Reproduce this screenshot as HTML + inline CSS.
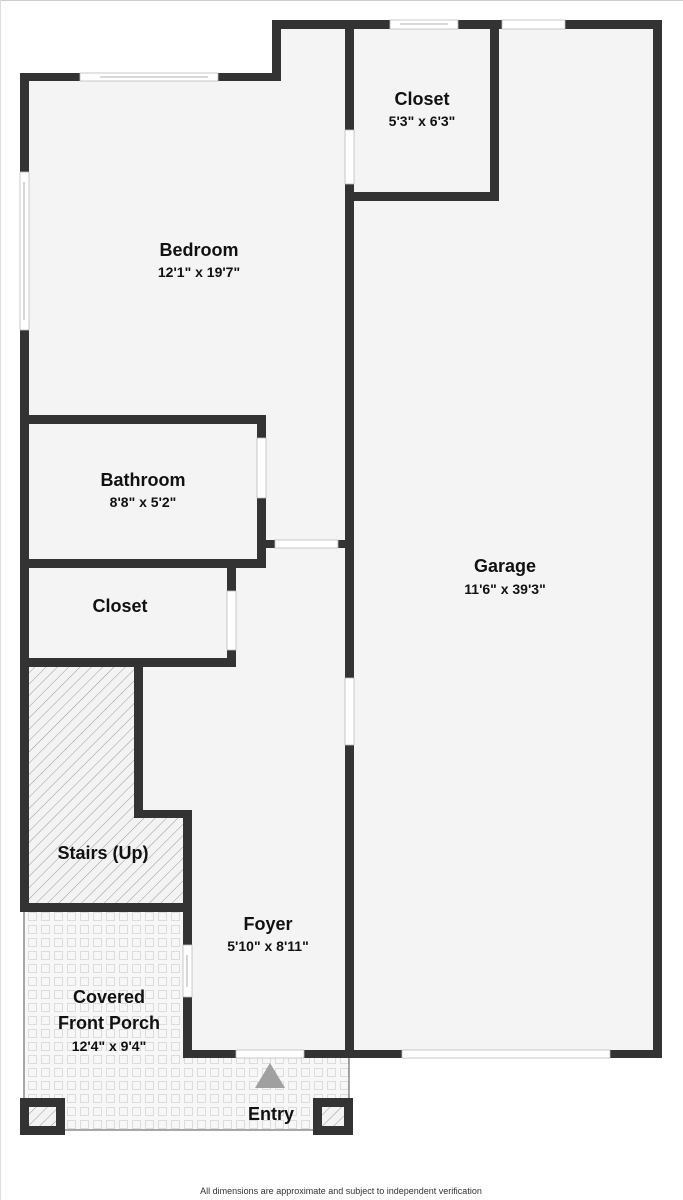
<!DOCTYPE html>
<html><head><meta charset="utf-8"><style>
html,body{margin:0;padding:0;background:#fff}
svg{display:block}
text{font-family:"Liberation Sans","DejaVu Sans",sans-serif;font-weight:bold;fill:#111;text-anchor:middle}
.d{font-size:14px}
</style></head><body>
<svg width="683" height="1200" viewBox="0 0 683 1200" xmlns="http://www.w3.org/2000/svg">
<defs>
<pattern id="h" width="8" height="8" patternUnits="userSpaceOnUse" patternTransform="rotate(45)">
<rect width="8" height="8" fill="#f3f3f3"/><line x1="0" y1="0" x2="0" y2="8" stroke="#9a9a9a" stroke-width="1"/></pattern>
<pattern id="t" width="13" height="13" patternUnits="userSpaceOnUse">
<rect width="13" height="13" fill="#f7f7f7"/><rect x="2.5" y="2.5" width="8" height="8" fill="none" stroke="#dcdcdc" stroke-width="1"/></pattern>
</defs>
<line x1="0" y1="0.5" x2="683" y2="0.5" stroke="#ccc"/>
<line x1="0.5" y1="0" x2="0.5" y2="1200" stroke="#ddd"/>
<!-- floors -->
<polygon points="24,77 276,77 276,24 658,24 658,1054 349,1054 349,1054 187,1054 187,907 24,907" fill="#f4f4f4"/>
<rect x="24" y="907" width="325" height="223" fill="url(#t)"/>
<polyline points="24,907 24,1130 349,1130 349,1054" fill="none" stroke="#555" stroke-width="1"/>
<rect x="187" y="903" width="162" height="151" fill="#f4f4f4"/>
<polygon points="29,667 138,667 138,814 185,814 185,903 29,903" fill="url(#h)"/>
<g fill="#333">
<rect x="272" y="20" width="390" height="9"/>
<rect x="20" y="73" width="261" height="8"/>
<rect x="272" y="20" width="9" height="61"/>
<rect x="20" y="73" width="9" height="839"/>
<rect x="345" y="20" width="9" height="1038"/>
<rect x="653" y="20" width="9" height="1038"/>
<rect x="345" y="1050" width="317" height="8"/>
<rect x="490" y="20" width="9" height="181"/>
<rect x="345" y="192" width="154" height="9"/>
<rect x="20" y="415" width="246" height="9"/>
<rect x="257" y="415" width="9" height="153"/>
<rect x="20" y="559" width="246" height="9"/>
<rect x="262" y="540" width="83" height="8"/>
<rect x="227" y="559" width="9" height="108"/>
<rect x="20" y="658" width="216" height="9"/>
<rect x="134" y="667" width="9" height="151"/>
<rect x="134" y="810" width="54" height="8"/>
<rect x="183" y="810" width="9" height="248"/>
<rect x="20" y="903" width="172" height="9"/>
<rect x="183" y="1050" width="166" height="8"/>
<rect x="20" y="1098" width="45" height="37"/>
<rect x="313" y="1098" width="40" height="37"/>
</g>
<rect x="29" y="1107" width="27" height="19" fill="url(#h)"/>
<rect x="322" y="1107" width="22" height="19" fill="url(#h)"/>
<g fill="#fff" stroke="#bbb" stroke-width="0.8">
<rect x="80" y="73" width="138" height="8"/>
<rect x="20" y="172" width="9" height="158"/>
<rect x="390" y="20" width="68" height="9"/>
<rect x="502" y="20" width="63" height="9"/>
<rect x="345" y="130" width="9" height="54"/>
<rect x="257" y="438" width="9" height="60"/>
<rect x="275" y="540" width="63" height="8"/>
<rect x="227" y="591" width="9" height="59"/>
<rect x="345" y="678" width="9" height="67"/>
<rect x="183" y="945" width="9" height="52"/>
<rect x="236" y="1050" width="68" height="8"/>
<rect x="402" y="1050" width="208" height="8"/>
</g>
<line x1="100" y1="77" x2="208" y2="77" stroke="#999" stroke-width="0.8"/>
<line x1="24" y1="182" x2="24" y2="320" stroke="#999" stroke-width="0.8"/>
<line x1="400" y1="24" x2="448" y2="24" stroke="#999" stroke-width="0.8"/>
<line x1="187" y1="955" x2="187" y2="987" stroke="#999" stroke-width="0.8"/>
<polygon points="270,1063 255,1088 285,1088" fill="#a0a0a0"/>
<text x="199" y="256" font-size="18">Bedroom</text>
<text x="199" y="277" class="d">12'1" x 19'7"</text>
<text x="422" y="105" font-size="18">Closet</text>
<text x="422" y="126" class="d">5'3" x 6'3"</text>
<text x="143" y="486" font-size="18">Bathroom</text>
<text x="143" y="507" class="d">8'8" x 5'2"</text>
<text x="120" y="612" font-size="18">Closet</text>
<text x="505" y="572" font-size="18">Garage</text>
<text x="505" y="594" class="d">11'6" x 39'3"</text>
<text x="103" y="859" font-size="18">Stairs (Up)</text>
<text x="268" y="930" font-size="18">Foyer</text>
<text x="268" y="951" class="d">5'10" x 8'11"</text>
<text x="109" y="1003" font-size="18">Covered</text>
<text x="109" y="1029" font-size="18">Front Porch</text>
<text x="109" y="1051" class="d">12'4" x 9'4"</text>
<text x="271" y="1120" font-size="18">Entry</text>
<text x="341" y="1194" font-size="9" style="font-weight:normal;fill:#333">All dimensions are approximate and subject to independent verification</text>
</svg>
</body></html>
